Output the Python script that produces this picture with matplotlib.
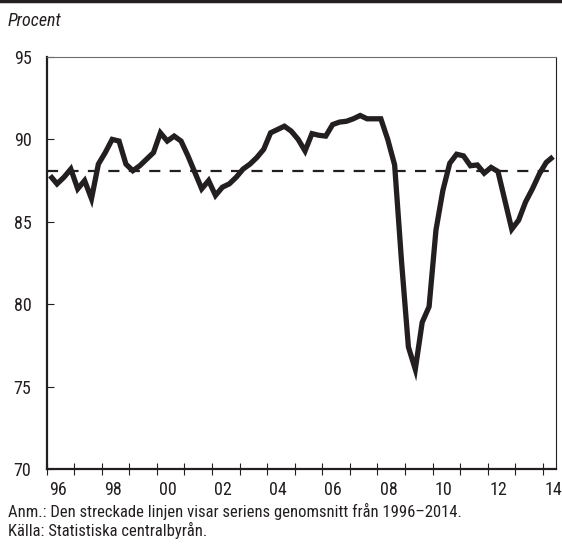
import numpy as np
import matplotlib.pyplot as plt

# kvartalsdata 1996K1 - 2014K2, procent
values = [87.8, 87.3, 87.7, 88.2,
          87.0, 87.5, 86.4, 88.5,
          89.2, 90.0, 89.9, 88.5,
          88.1, 88.4, 88.8, 89.2,
          90.4, 89.9, 90.2, 89.9,
          89.0, 88.0, 87.0, 87.5,
          86.6, 87.1, 87.3, 87.7,
          88.2, 88.5, 88.9, 89.4,
          90.4, 90.6, 90.8, 90.5,
          90.0, 89.3, 90.35, 90.25,
          90.2, 90.9, 91.05, 91.1,
          91.25, 91.45, 91.25, 91.25,
          91.25, 90.0, 88.45, 82.6,
          77.4, 76.05, 78.9, 79.85,
          84.5, 86.9, 88.55, 89.1,
          89.0, 88.4, 88.45, 87.95,
          88.3, 88.05, 86.3, 84.55,
          85.1, 86.2, 87.0, 87.9,
          88.6, 88.95]
mean_value = 88.1
start_year = 1996
year_labels = ['96', '98', '00', '02', '04', '06', '08', '10', '12', '14']
yticks = [70, 75, 80, 85, 90, 95]

x = start_year + (np.arange(len(values)) + 0.5) / 4.0

plt.rcParams['font.family'] = ['Roboto Condensed', 'DejaVu Sans']
fs = 12        # fotnoter
fs_tick = 13   # axeltext

fig = plt.figure(figsize=(5.62, 5.47), dpi=100)
ax = fig.add_axes([0.0831, 0.1426, 0.9062, 0.7532])

ax.plot(x, values, color='#231f20', lw=3.8, solid_joinstyle='miter', solid_capstyle='butt')
ax.axhline(mean_value, color='#231f20', lw=1.6, dashes=(5, 4.2))

ax.set_xlim(1996, 2014.48)
ax.set_ylim(70, 95)
ax.set_yticks(yticks)
ax.tick_params(axis='y', direction='in', length=5, width=0.8, pad=11, labelsize=fs_tick, colors='#231f20')
ax.set_xticks(np.arange(1996, 2015), minor=False)
ax.set_xticklabels([])
ax.tick_params(axis='x', direction='inout', length=8, width=0.8, colors='#231f20')
ax.set_xticks([int('19' + s) + 0.4 if s >= '50' else int('20' + s) + 0.4 for s in year_labels], minor=True)
ax.set_xticklabels(year_labels, minor=True)
ax.tick_params(axis='x', which='minor', length=0, pad=9, labelsize=fs_tick, colors='#231f20')

for side in ['left', 'bottom']:
    ax.spines[side].set_linewidth(1.6)
    ax.spines[side].set_color('#231f20')
ax.spines['top'].set_linewidth(0.8)
ax.spines['top'].set_color('#6d6e71')
ax.spines['right'].set_linewidth(0.8)
ax.spines['right'].set_color('#231f20')

fig.add_artist(plt.Line2D([0, 1], [0.998, 0.998], color='#231f20', lw=2.5))
fig.text(0.014, 0.962, 'Procent', fontsize=13, style='italic', va='center', color='#231f20')
fig.text(0.014, 0.064, 'Anm.: Den streckade linjen visar seriens genomsnitt från 1996–2014.',
         fontsize=fs, va='center', color='#231f20')
fig.text(0.014, 0.031, 'Källa: Statistiska centralbyrån.', fontsize=fs, va='center', color='#231f20')

fig.savefig('out.png', dpi=100)
